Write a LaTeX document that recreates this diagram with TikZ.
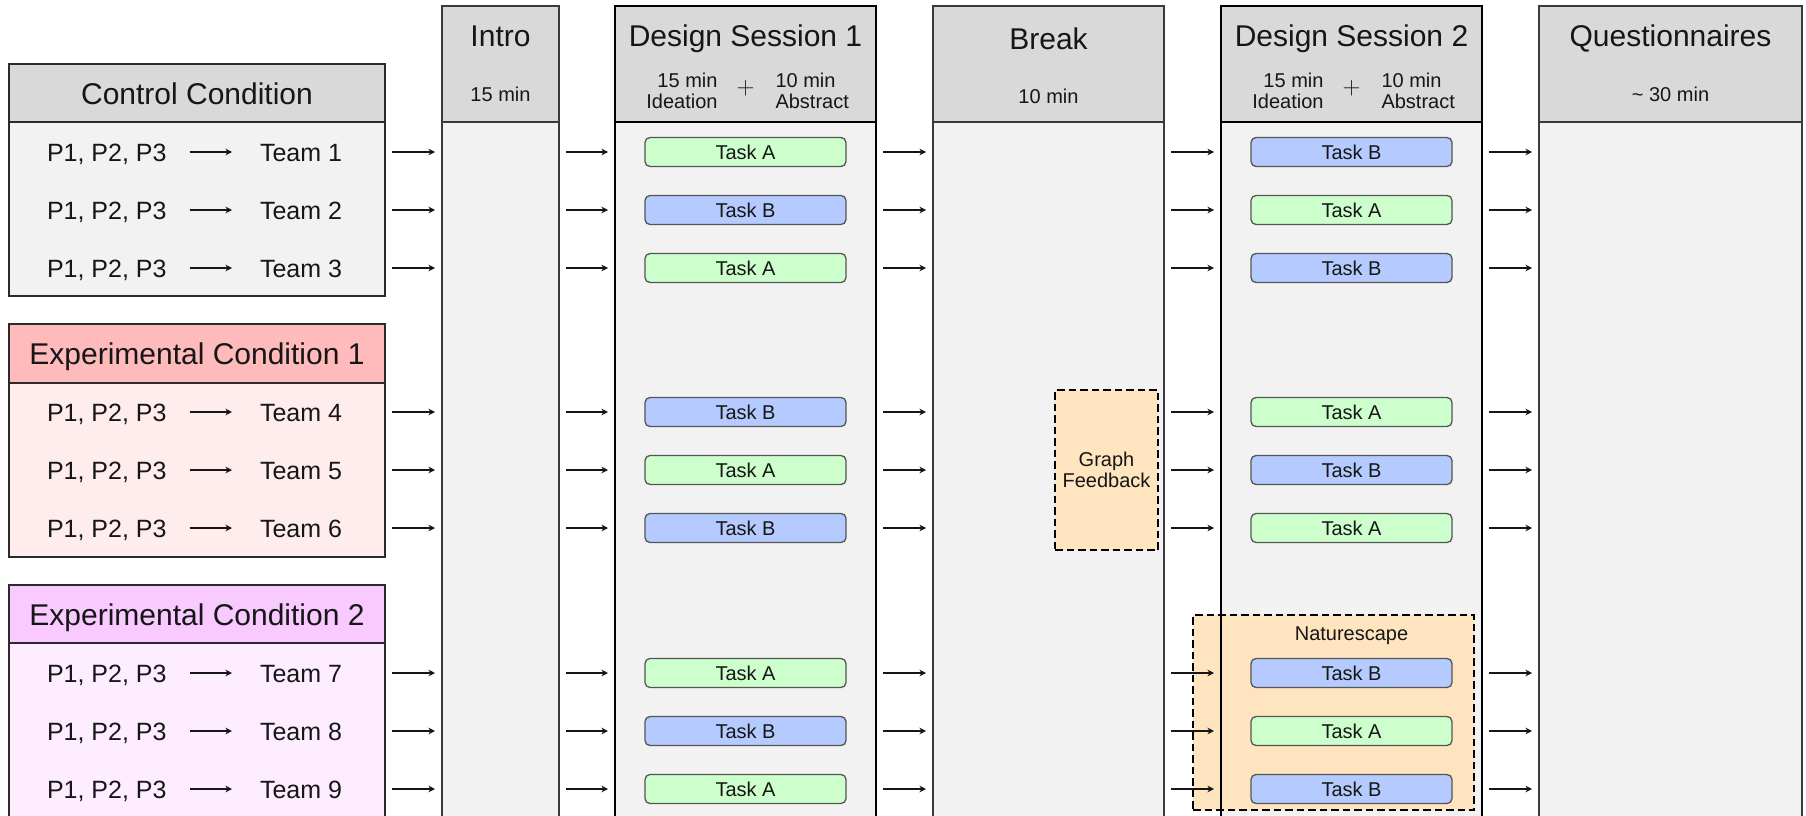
\documentclass[tikz,border=0pt]{standalone}
\usepackage{fontspec}
\setmainfont{Liberation Sans}
\usetikzlibrary{arrows.meta,calc}

\definecolor{ink}{HTML}{161616}
\definecolor{edge}{HTML}{2B2B2B}
\definecolor{coledge}{HTML}{3A3A3A}
\definecolor{headgray}{HTML}{D9D9D9}
\definecolor{bodygray}{HTML}{F2F2F2}
\definecolor{expOneHead}{HTML}{FFBBBB}
\definecolor{expOneBody}{HTML}{FFEDED}
\definecolor{expTwoHead}{HTML}{F9CAFF}
\definecolor{expTwoBody}{HTML}{FEEDFF}
\definecolor{fillA}{HTML}{CCFFCC}
\definecolor{fillB}{HTML}{B5CBFF}
\definecolor{taskedge}{HTML}{555555}
\definecolor{treat}{HTML}{FFE5BF}

\newcommand\FontTitle{\fontsize{30}{34}\selectfont}
\newcommand\FontRow{\fontsize{25}{30}\selectfont}
\newcommand\FontSmall{\fontsize{20}{21}\selectfont}

\begin{document}
\begin{tikzpicture}[x=1pt, y=-1pt,
  every node/.style={inner sep=0pt, outer sep=0pt, text=ink},
  condbox/.style={anchor=north west, draw=edge, line width=2pt},
  condhead/.style={condbox, font=\FontTitle, text height=22pt, text depth=0pt},
  colbox/.style={anchor=north west, draw=coledge, line width=2pt},
  dsbox/.style={anchor=north west, draw=black, line width=2.4pt},
  title/.style={anchor=base, font=\FontTitle},
  sub/.style={font=\FontSmall},
  rowtxt/.style={anchor=base west, font=\FontRow},
  flow/.style={draw=ink, line width=1.4pt, -{Stealth[length=6.5pt,width=6.5pt,inset=2pt]}},
  task/.style={draw=taskedge, line width=1.3pt, rounded corners=5pt,
    minimum width=201pt, minimum height=29pt, font=\FontSmall,
    text height=14.5pt, text depth=0pt},
  dashbox/.style={anchor=north west, draw=black, fill=treat, line width=2.6pt,
    dash pattern=on 7.5pt off 4pt}]

\useasboundingbox (0,0) rectangle (1806,816);
\clip (0,0) rectangle (1806,816);

% condition groups
\node[condbox, fill=bodygray, minimum width=376pt, minimum height=174pt] (cbA) at (9,122) {};
\node[condhead, fill=headgray, minimum width=376pt, minimum height=58pt] (chA) at (9,64) {Control Condition};
\node[condbox, fill=expOneBody, minimum width=376pt, minimum height=174pt] (cbB) at (9,383) {};
\node[condhead, fill=expOneHead, minimum width=376pt, minimum height=59pt] (chB) at (9,324) {Experimental Condition 1};
\node[condbox, fill=expTwoBody, minimum width=376pt, minimum height=176pt] (cbC) at (9,643) {};
\node[condhead, fill=expTwoHead, minimum width=376pt, minimum height=58pt] (chC) at (9,585) {Experimental Condition 2};

% timeline columns
\node[colbox, fill=bodygray, minimum width=117pt, minimum height=696pt] (introb) at (442,122) {};
\node[colbox, fill=headgray, minimum width=117pt, minimum height=116pt] (introh) at (442,6) {};
\node[dsbox, fill=bodygray, minimum width=261pt, minimum height=696pt] (dsab) at (615,122) {};
\node[dsbox, fill=headgray, minimum width=261pt, minimum height=116pt] (dsah) at (615,6) {};
\node[colbox, fill=bodygray, minimum width=231pt, minimum height=696pt] (brkb) at (933,122) {};
\node[colbox, fill=headgray, minimum width=231pt, minimum height=116pt] (brkh) at (933,6) {};
\node[dsbox, fill=bodygray, minimum width=261pt, minimum height=696pt] (dsbb) at (1221,122) {};
\node[dsbox, fill=headgray, minimum width=261pt, minimum height=116pt] (dsbh) at (1221,6) {};
\node[colbox, fill=bodygray, minimum width=263pt, minimum height=696pt] (qb) at (1539,122) {};
\node[colbox, fill=headgray, minimum width=263pt, minimum height=116pt] (qh) at (1539,6) {};

% column titles
\node[title] at ($(introh.north)+(0,41)$) {Intro};
\node[sub, anchor=base] at ($(introh.north)+(0,95)$) {15 min};
\node[title] at ($(dsah.north)+(0,41)$) {Design Session 1};
\node[title] at ($(brkh.north)+(0,43)$) {Break};
\node[sub, anchor=base] at ($(brkh.north)+(0,97)$) {10 min};
\node[title] at ($(dsbh.north)+(0,41)$) {Design Session 2};
\node[title] at ($(qh.north)+(0,41)$) {Questionnaires};
\node[sub, anchor=base] at ($(qh.north)+(0,95)$) {\textasciitilde{} 30 min};
\foreach \h in {dsah,dsbh}{
  \node[sub, anchor=base east] at ($(\h.north)+(-28,81)$) {15 min};
  \node[sub, anchor=base east] at ($(\h.north)+(-28,102)$) {Ideation};
  \node[sub, anchor=base west] at ($(\h.north)+(30,81)$) {10 min};
  \node[sub, anchor=base west] at ($(\h.north)+(30,102)$) {Abstract};
  \node[font=\fontsize{24}{24}\selectfont] at ($(\h.north)+(0,82)$) {$+$};
}

% interventions
\node[dashbox, minimum width=103pt, minimum height=160pt, align=center, font=\FontSmall] (gf) at (1055,390) {Graph\\Feedback};
\node[dashbox, minimum width=281pt, minimum height=195pt] (nat) at (1193,615) {};
\draw[black, line width=2.4pt] (dsbb.west |- nat.north) -- (dsbb.west |- nat.south);
\node[sub, anchor=base] at ($(nat.north -| dsbb.center)+(0,25)$) {Naturescape};

% teams, tasks and flow
\foreach \i/\y/\grp/\ta/\tb in {1/152/cbA/A/B, 2/210/cbA/B/A, 3/268/cbA/A/B,
    4/412/cbB/B/A, 5/470/cbB/A/B, 6/528/cbB/B/A,
    7/673/cbC/A/B, 8/731/cbC/B/A, 9/789/cbC/A/B}{
  \coordinate (r\i) at (0,\y);
  \node[rowtxt] (p\i) at (47,\y+9) {P1, P2, P3};
  \node[rowtxt] (t\i) at (260,\y+9) {Team \i};
  \draw[flow] ($(p\i.east |- r\i)+(23,0)$) -- ($(t\i.west |- r\i)+(-28,0)$);
  \node[task, fill=fill\ta] (ka\i) at (dsab.center |- r\i) {Task \ta};
  \node[task, fill=fill\tb] (kb\i) at (dsbb.center |- r\i) {Task \tb};
  \draw[flow] ($(\grp.east |- r\i)+(7,0)$) -- ($(introb.west |- r\i)+(-7,0)$);
  \draw[flow] ($(introb.east |- r\i)+(7,0)$) -- ($(dsab.west |- r\i)+(-7,0)$);
  \draw[flow] ($(dsab.east |- r\i)+(7,0)$) -- ($(brkb.west |- r\i)+(-7,0)$);
  \draw[flow] ($(brkb.east |- r\i)+(7,0)$) -- ($(dsbb.west |- r\i)+(-7,0)$);
  \draw[flow] ($(dsbb.east |- r\i)+(7,0)$) -- ($(qb.west |- r\i)+(-7,0)$);
}
\end{tikzpicture}
\end{document}
